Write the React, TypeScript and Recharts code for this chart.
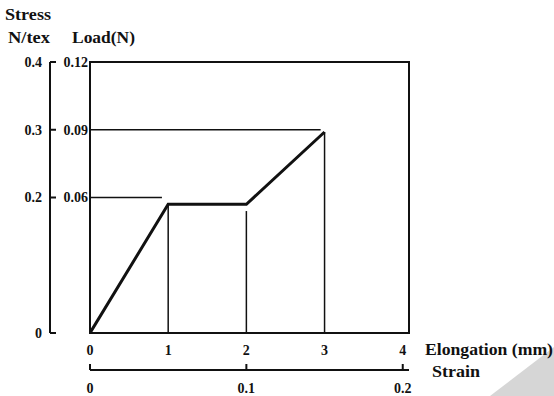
import { ComposedChart, Line, XAxis, YAxis, ReferenceLine, ReferenceArea } from 'recharts';

// curve points
const elongation = [0, 1, 2, 3];
const load = [0, 0.057, 0.057, 0.089];

const elongationTicks = [0, 1, 2, 3, 4];
const strainTicks = [0, 0.1, 0.2];
const loadTicks = [0.06, 0.09, 0.12];
const stressTicks = [0, 0.2, 0.3, 0.4];

const elongationMax = 4.08;
const strainMax = 0.204;
const loadMax = 0.12;
const stressMax = 0.4;

// drop lines: [x1, y1, x2, y2]
const guides = [
  [0, 0.09, 2.95, 0.09],
  [0, 0.06, 0.92, 0.06],
  [1, 0.057, 1, 0],
  [2, 0.054, 2, 0],
  [3, 0.089, 3, 0],
];

const data = elongation.map((e, i) => ({ e, load: load[i] }));

const ink = '#111';
const serif = '"Liberation Serif", "Times New Roman", serif';
const tickFont = { fontFamily: serif, fontSize: 14, fontWeight: 'bold', fill: ink };

const title = (text: string, dx: number, dy: number, len?: number) =>
  ({ viewBox }: any) => (
    <text
      x={viewBox.x + dx}
      y={viewBox.y + dy}
      fontFamily={serif}
      fontSize={16}
      fontWeight="bold"
      fill={ink}
      textLength={len}
      lengthAdjust="spacingAndGlyphs"
    >
      {text}
    </text>
  );

export default function App() {
  return (
    <div style={{ position: 'absolute', left: 0, top: 0, width: 554, height: 396, background: '#fff' }}>
      <div
        style={{
          position: 'absolute',
          inset: 0,
          background: '#d6d6d6',
          clipPath: 'polygon(490px 396px, 554px 347px, 554px 396px)',
        }}
      />
      <div style={{ position: 'absolute', left: 0, top: 0 }}>
        <ComposedChart width={554} height={396} data={data} margin={{ top: 62, right: 145, bottom: 0, left: 0 }}>
          <XAxis
            xAxisId="elong"
            dataKey="e"
            type="number"
            domain={[0, elongationMax]}
            allowDataOverflow
            ticks={elongationTicks}
            axisLine={false}
            tickLine={false}
            tickSize={0}
            tickMargin={12}
            height={37}
            tick={tickFont}
            label={title('Elongation (mm)', 335, 22, 128)}
          />
          <XAxis
            xAxisId="strain"
            dataKey="e"
            type="number"
            domain={[0, strainMax]}
            allowDataOverflow
            ticks={strainTicks}
            interval={0}
            axisLine={{ stroke: ink, strokeWidth: 2 }}
            tickLine={{ stroke: ink, strokeWidth: 2 }}
            tickSize={-6}
            tickMargin={19}
            height={26}
            tick={tickFont}
            label={title('Strain', 342, 7, 48)}
          />
          <YAxis
            yAxisId="load"
            type="number"
            domain={[0, loadMax]}
            allowDataOverflow
            ticks={loadTicks}
            interval={0}
            axisLine={false}
            tickLine={false}
            tickSize={0}
            tickMargin={2}
            width={40}
            tick={tickFont}
            label={title('Load(N)', 22, -19, 63)}
          />
          <YAxis
            yAxisId="stress"
            type="number"
            domain={[0, stressMax]}
            allowDataOverflow
            ticks={stressTicks}
            interval={0}
            axisLine={{ stroke: ink, strokeWidth: 2 }}
            tickLine={{ stroke: ink, strokeWidth: 2 }}
            tickSize={-6}
            tickMargin={14}
            width={50}
            tick={tickFont}
            label={(p: any) => (
              <g>
                {title('Stress', 5, -42, 46)(p)}
                {title('N/tex', 8, -19, 42)(p)}
              </g>
            )}
          />
          <ReferenceArea
            xAxisId="elong"
            yAxisId="load"
            x1={0}
            x2={elongationMax}
            y1={0}
            y2={loadMax}
            fill="none"
            fillOpacity={0}
            stroke={ink}
            strokeWidth={2}
          />
          {guides.map(([x1, y1, x2, y2], i) => (
            <ReferenceLine
              key={i}
              xAxisId="elong"
              yAxisId="load"
              segment={[
                { x: x1, y: y1 },
                { x: x2, y: y2 },
              ]}
              stroke={ink}
              strokeWidth={1.5}
            />
          ))}
          <Line
            xAxisId="elong"
            yAxisId="load"
            type="linear"
            dataKey="load"
            stroke={ink}
            strokeWidth={3}
            dot={false}
            isAnimationActive={false}
          />
        </ComposedChart>
      </div>
    </div>
  );
}
